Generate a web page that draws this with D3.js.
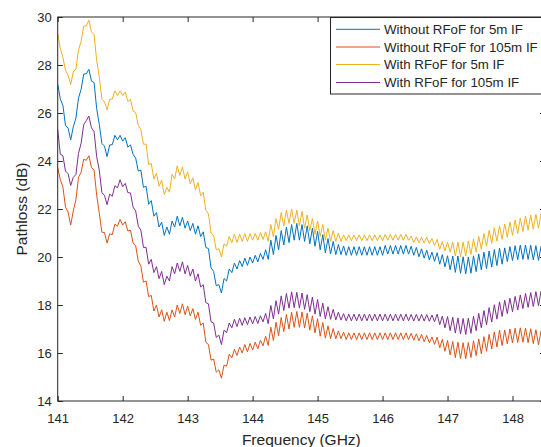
<!DOCTYPE html>
<html>
<head>
<meta charset="utf-8">
<script src="https://cdn.jsdelivr.net/npm/d3@7"></script>
<style>
  body { margin: 0; background: #fff; }
  svg text { font-family: "Liberation Sans", Arial, Helvetica, sans-serif; fill: #262626; }
</style>
</head>
<body>
<div id="main"></div>
<script>
const freqStart = 141;
const freqStep = 0.04;

const withoutRfof5m = [
  27.22,26.58,26.32,25.48,25.37,24.88,25.42,25.78,26.62,26.98,
  27.62,27.63,27.82,27.33,27.27,26.18,25.52,24.73,24.62,24.18,
  24.67,24.68,25.07,24.88,25.07,24.83,24.97,24.58,24.67,24.28,
  24.12,23.58,23.62,22.9,22.95,22.2,22.35,21.7,21.85,21.25,
  21.45,20.9,21.25,20.95,21.5,21.25,21.7,21.3,21.65,21.2,
  21.5,21.1,21.4,20.95,21.3,20.85,21.05,20.4,20.35,19.55,
  19.4,18.8,18.85,18.5,19.1,19.0,19.5,19.35,19.75,19.5,
  19.85,19.6,19.95,19.65,20.0,19.75,20.07,19.8,20.15,19.9,
  20.3,19.9,20.7,20.1,20.9,20.3,21.1,20.5,21.25,20.6,
  21.35,20.7,21.4,20.7,21.35,20.65,21.3,20.55,21.2,20.45,
  21.07,20.3,20.93,20.17,20.77,20.13,20.65,20.1,20.52,20.1,
  20.46,20.07,20.43,20.07,20.43,20.07,20.43,20.07,20.43,20.07,
  20.43,20.07,20.43,20.07,20.43,20.07,20.48,20.12,20.48,20.12,
  20.48,20.12,20.48,20.12,20.48,20.12,20.45,20.07,20.4,20.01,
  20.34,19.95,20.28,19.88,20.2,19.82,20.18,19.7,20.1,19.59,
  20.05,19.47,20.04,19.36,20.04,19.32,20.01,19.3,20.0,19.32,
  20.05,19.39,20.13,19.47,20.2,19.52,20.25,19.58,20.31,19.64,
  20.37,19.7,20.38,19.81,20.43,19.85,20.47,19.89,20.5,19.9,
  20.5,19.9,20.49,19.88,20.47,19.86,20.45,19.85,20.45
];

const withoutRfof105m = [
  23.72,23.23,22.92,22.08,21.87,21.33,21.92,22.38,23.32,23.53,
  24.07,24.03,24.22,23.73,23.62,22.58,21.82,21.03,21.02,20.58,
  20.97,20.93,21.37,21.28,21.57,21.33,21.47,21.08,21.12,20.58,
  20.47,19.83,19.62,18.95,19.0,18.35,18.4,17.75,18.0,17.5,
  17.8,17.32,17.7,17.35,17.8,17.5,18.0,17.65,18.05,17.6,
  17.95,17.55,17.85,17.4,17.7,17.15,17.25,16.45,16.35,15.7,
  15.75,15.2,15.3,14.95,15.5,15.45,15.95,15.8,16.15,15.9,
  16.25,16.0,16.35,16.05,16.4,16.13,16.45,16.18,16.53,16.3,
  16.7,16.32,17.08,16.52,17.28,16.72,17.48,16.89,17.61,17.0,
  17.7,17.07,17.73,17.07,17.71,17.04,17.66,16.95,17.55,16.84,
  17.43,16.7,17.27,16.62,17.13,16.6,17.02,16.59,16.92,16.6,
  16.87,16.56,16.84,16.56,16.84,16.56,16.84,16.56,16.84,16.56,
  16.84,16.56,16.84,16.56,16.84,16.56,16.84,16.56,16.84,16.56,
  16.84,16.56,16.84,16.56,16.84,16.56,16.82,16.53,16.8,16.51,
  16.77,16.47,16.73,16.42,16.67,16.36,16.66,16.22,16.57,16.07,
  16.52,15.92,16.48,15.81,16.45,15.77,16.43,15.77,16.44,15.81,
  16.51,15.89,16.59,15.97,16.68,16.07,16.78,16.17,16.88,16.25,
  16.95,16.31,16.96,16.38,17.0,16.42,17.03,16.44,17.05,16.45,
  17.04,16.43,17.01,16.39,16.97,16.34,16.92,16.3,16.88
];

const withRfof5m = [
  29.32,28.68,28.32,27.78,27.57,27.18,27.72,27.83,28.62,28.98,
  29.62,29.63,29.87,29.38,29.27,28.18,27.52,26.58,26.47,26.13,
  26.57,26.58,26.92,26.73,26.92,26.73,26.87,26.48,26.57,26.08,
  26.02,25.48,25.32,24.7,24.7,23.85,23.9,23.25,23.5,22.95,
  23.2,22.6,22.9,22.7,23.45,23.25,23.8,23.4,23.75,23.25,
  23.55,23.05,23.3,22.8,23.1,22.55,22.7,21.95,21.8,21.0,
  20.9,20.3,20.35,20.0,20.55,20.45,20.85,20.6,20.95,20.6,
  20.95,20.65,20.97,20.65,20.98,20.7,20.98,20.7,21.02,20.73,
  21.05,20.65,21.35,20.85,21.6,21.15,21.85,21.3,21.95,21.4,
  22.0,21.4,21.95,21.3,21.9,21.2,21.75,21.1,21.6,20.95,
  21.5,20.85,21.35,20.7,21.2,20.65,21.1,20.65,21.0,20.65,
  20.92,20.68,20.92,20.68,20.92,20.68,20.92,20.68,20.92,20.68,
  20.92,20.68,20.92,20.68,20.92,20.68,20.94,20.7,20.94,20.7,
  20.94,20.7,20.94,20.7,20.94,20.7,20.87,20.61,20.84,20.59,
  20.82,20.58,20.82,20.56,20.77,20.48,20.73,20.32,20.65,20.26,
  20.62,20.2,20.62,20.04,20.62,20.0,20.62,20.04,20.67,20.11,
  20.75,20.2,20.86,20.32,20.98,20.45,21.11,20.57,21.22,20.66,
  21.3,20.74,21.38,20.82,21.46,20.9,21.54,20.98,21.62,21.06,
  21.7,21.12,21.74,21.16,21.78,21.2,21.8,21.2,21.8
];

const withRfof105m = [
  25.32,24.28,24.22,23.58,23.47,22.98,23.32,23.43,24.32,24.73,
  25.52,25.68,25.87,25.38,25.22,24.18,23.62,22.68,22.57,22.18,
  22.62,22.53,22.97,22.88,23.22,22.93,23.07,22.68,22.67,22.08,
  21.92,21.28,21.12,20.4,20.4,19.7,19.9,19.35,19.6,19.1,
  19.4,18.85,19.2,19.0,19.6,19.3,19.75,19.4,19.8,19.3,
  19.65,19.2,19.5,19.0,19.3,18.75,18.85,18.1,18.05,17.3,
  17.25,16.65,16.75,16.35,16.95,16.85,17.25,17.05,17.4,17.1,
  17.45,17.15,17.47,17.18,17.5,17.21,17.52,17.23,17.55,17.3,
  17.65,17.22,17.98,17.42,18.18,17.62,18.38,17.77,18.48,17.87,
  18.55,17.89,18.53,17.87,18.5,17.82,18.43,17.72,18.33,17.62,
  18.23,17.52,18.08,17.42,17.93,17.4,17.82,17.38,17.7,17.37,
  17.64,17.34,17.62,17.34,17.62,17.34,17.62,17.34,17.62,17.34,
  17.62,17.34,17.62,17.34,17.62,17.34,17.62,17.34,17.62,17.34,
  17.62,17.34,17.62,17.34,17.62,17.34,17.61,17.33,17.61,17.33,
  17.61,17.33,17.6,17.32,17.58,17.3,17.62,17.18,17.54,17.05,
  17.52,16.93,17.49,16.83,17.46,16.79,17.44,16.77,17.45,16.82,
  17.53,16.93,17.65,17.05,17.77,17.17,17.89,17.29,18.01,17.41,
  18.13,17.52,18.2,17.64,18.28,17.72,18.36,17.79,18.42,17.85,
  18.48,17.9,18.52,17.94,18.56,17.97,18.58,17.98,18.58
];

const seriesNames = ['Without RFoF for 5m IF', 'Without RFoF for 105m IF', 'With RFoF for 5m IF', 'With RFoF for 105m IF'];
const seriesValues = [withoutRfof5m, withoutRfof105m, withRfof5m, withRfof105m];
const seriesColors = ['#0072BD', '#D95319', '#EDB120', '#7E2F8E'];
const xTicks = [141, 142, 143, 144, 145, 146, 147, 148];
const yTicks = [14, 16, 18, 20, 22, 24, 26, 28, 30];

const svgWidth = 541, svgHeight = 447;
const plotLeft = 57.7, plotRight = 545, plotTop = 17, plotBottom = 401;
const axisColor = '#262626';

const svg = d3.select('#main')
  .append('svg')
  .attr('width', svgWidth)
  .attr('height', svgHeight);

const xScale = d3.scaleLinear().domain([141, 148.5]).range([plotLeft, plotRight]);
const yScale = d3.scaleLinear().domain([14, 30]).range([plotBottom, plotTop]);

svg.append('clipPath')
  .attr('id', 'plot-clip')
  .append('rect')
  .attr('x', plotLeft).attr('y', plotTop)
  .attr('width', plotRight - plotLeft).attr('height', plotBottom - plotTop);

// lines
const line = d3.line()
  .x((d, i) => xScale(freqStart + i * freqStep))
  .y(d => yScale(d));

svg.append('g')
  .attr('clip-path', 'url(#plot-clip)')
  .selectAll('path')
  .data(seriesValues)
  .join('path')
    .attr('fill', 'none')
    .attr('stroke', (d, i) => seriesColors[i])
    .attr('stroke-width', 1)
    .attr('stroke-linejoin', 'round')
    .attr('d', line);

// axes, matlab style: ticks pointing in, box around
const xAxis = d3.axisBottom(xScale).tickValues(xTicks).tickSize(-5).tickSizeOuter(0).tickPadding(13);
const yAxis = d3.axisLeft(yScale).tickValues(yTicks).tickSize(-5).tickSizeOuter(0).tickPadding(6);

svg.append('g')
  .attr('transform', `translate(0,${plotBottom})`)
  .call(xAxis);
svg.append('g')
  .attr('transform', `translate(${plotLeft},0)`)
  .call(yAxis);

svg.append('g')
  .attr('transform', `translate(0,${plotTop})`)
  .call(d3.axisTop(xScale).tickValues(xTicks).tickSize(-5).tickSizeOuter(0).tickFormat(''));
svg.append('g')
  .attr('transform', `translate(${plotRight},0)`)
  .call(d3.axisRight(yScale).tickValues(yTicks).tickSize(-5).tickSizeOuter(0).tickFormat(''));

svg.selectAll('.domain').remove();
svg.selectAll('.tick line').attr('stroke', axisColor);
svg.selectAll('.tick text')
  .style('font-size', '13px')
  .attr('fill', axisColor);

svg.append('rect')
  .attr('x', plotLeft).attr('y', plotTop)
  .attr('width', plotRight - plotLeft).attr('height', plotBottom - plotTop)
  .attr('fill', 'none')
  .attr('stroke', axisColor)
  .attr('stroke-width', 1);

// axis labels
svg.append('text')
  .attr('x', (plotLeft + plotRight) / 2)
  .attr('y', 445)
  .attr('text-anchor', 'middle')
  .style('font-size', '15.5px')
  .text('Frequency (GHz)');

svg.append('text')
  .attr('transform', `translate(26.5,${(plotTop + plotBottom) / 2}) rotate(-90)`)
  .attr('text-anchor', 'middle')
  .style('font-size', '15.5px')
  .text('Pathloss (dB)');

// legend
const legend = svg.append('g');
legend.append('rect')
  .attr('x', 330.5).attr('y', 17.5)
  .attr('width', 220).attr('height', 76.5)
  .attr('fill', '#fff')
  .attr('stroke', axisColor)
  .attr('stroke-width', 1);

const legendRows = [29.3, 47, 64.5, 82.5];
seriesNames.forEach((name, i) => {
  legend.append('line')
    .attr('x1', 336).attr('x2', 380)
    .attr('y1', legendRows[i]).attr('y2', legendRows[i])
    .attr('stroke', seriesColors[i])
    .attr('stroke-width', 1);
  legend.append('text')
    .attr('x', 384)
    .attr('y', legendRows[i])
    .attr('dy', '0.35em')
    .style('font-size', '13.3px')
    .text(name);
});
</script>
</body>
</html>
